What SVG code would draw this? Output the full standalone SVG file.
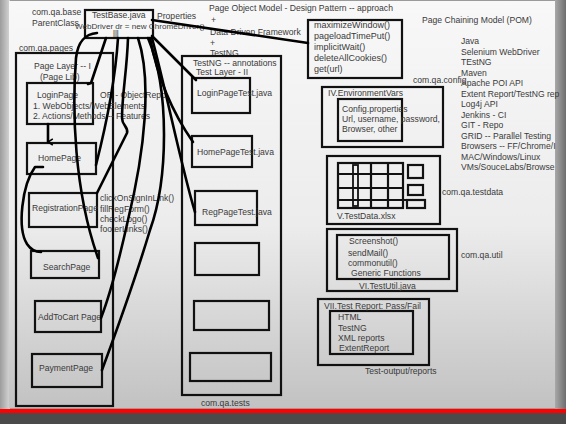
<svg xmlns="http://www.w3.org/2000/svg" width="566" height="424" viewBox="0 0 566 424">
  <defs>
    <linearGradient id="slideGrad" x1="0" y1="0" x2="0" y2="1">
      <stop offset="0" stop-color="#f8f8f8"/>
      <stop offset="0.55" stop-color="#ececec"/>
      <stop offset="1" stop-color="#c2c2c2"/>
    </linearGradient>
    <linearGradient id="rightShade" x1="0" y1="0" x2="1" y2="0">
      <stop offset="0" stop-color="#a8a8a8"/>
      <stop offset="1" stop-color="#6e6e6e"/>
    </linearGradient>
    <linearGradient id="leftShade" x1="0" y1="0" x2="1" y2="0">
      <stop offset="0" stop-color="#9c9c9c"/>
      <stop offset="1" stop-color="#d6d6d6"/>
    </linearGradient>
    <marker id="arrow" viewBox="0 0 10 10" refX="5" refY="9" markerWidth="8" markerHeight="8" orient="auto-start-reverse" markerUnits="userSpaceOnUse">
      <path d="M1,3 L5,9 L9,3" fill="none" stroke="#000" stroke-width="2"/>
    </marker>
    <style>
      .t { font-family: "Liberation Sans", Arial, sans-serif; font-size: 8.6px; fill: #3a3a3a; }
      .m { font-size: 9px; }
      .s { font-size: 8.1px; }
      .box { fill: none; stroke: #111; stroke-width: 2.2; }
      .thin { fill: none; stroke: #111; stroke-width: 1.8; }
      .wire { fill: none; stroke: #000; stroke-width: 2.6; stroke-linecap: round; stroke-linejoin: round; }
    </style>
  </defs>

  <!-- screen backdrop, slide and taskbar strip -->
  <rect x="0" y="0" width="566" height="424" fill="#9a9a9a"/>
  <rect x="0" y="0" width="10" height="410" fill="url(#leftShade)"/>
  <rect x="555" y="0" width="11" height="410" fill="url(#rightShade)"/>
  <rect x="9" y="1" width="546" height="407" fill="url(#slideGrad)"/>
  <rect x="0" y="409" width="566" height="4" fill="#ff0000"/>
  <rect x="0" y="413" width="566" height="11" fill="#4a4a4a"/>

  <!-- headings and free notes -->
  <g id="notes">
    <text class="t" x="209" y="11">Page Object Model - Design Pattern -- approach</text>
    <text class="t" x="211" y="23">+</text>
    <text class="t" x="210" y="35">Data Driven Framework</text>
    <text class="t" x="210" y="45.5">+</text>
    <text class="t" x="210" y="55.5">TestNG</text>
    <text class="t" x="422" y="23">Page Chaining Model (POM)</text>
    <text class="t" x="461" y="44">Java</text>
    <text class="t" x="461" y="54.5">Selenium WebDriver</text>
    <text class="t" x="461" y="65">TEstNG</text>
    <text class="t" x="461" y="75.5">Maven</text>
    <text class="t" x="461" y="86">Apache POI API</text>
    <text class="t" x="461" y="96.5">Extent Report/TestNG rep</text>
    <text class="t" x="461" y="107">Log4j API</text>
    <text class="t" x="461" y="117.5">Jenkins - CI</text>
    <text class="t" x="461" y="128">GIT - Repo</text>
    <text class="t" x="461" y="138.5">GRID -- Parallel Testing</text>
    <text class="t" x="461" y="149">Browsers -- FF/Chrome/I</text>
    <text class="t" x="461" y="159.5">MAC/Windows/Linux</text>
    <text class="t" x="461" y="170">VMs/SouceLabs/Browse</text>
    <text class="t" x="32" y="15">com.qa.base</text>
    <text class="t" x="32" y="26">ParentClass</text>
    <text class="t" x="157" y="19">Properties</text>
    <text class="t" x="19" y="51">com.qa.pages</text>
    <text class="t" x="100" y="97.5">OR - ObjectRepo</text>
    <text class="t" x="100" y="201">clickOnSignInLink()</text>
    <text class="t" x="100" y="212">fillRegForm()</text>
    <text class="t" x="100" y="222">checkLogo()</text>
    <text class="t" x="100" y="232">footerLinks()</text>
    <text class="t" x="201" y="406">com.qa.tests</text>
    <text class="t" x="413" y="83">com.qa.config</text>
    <text class="t" x="442" y="195">com.qa.testdata</text>
    <text class="t" x="461" y="258">com.qa.util</text>
    <text class="t" x="365" y="374">Test-output/reports</text>
  </g>

  <!-- base class -->
  <g id="testbase">
    <rect class="box" x="85" y="10" width="68" height="28"/>
    <text class="t" x="92" y="18">TestBase.java</text>
    <text class="t s" x="75" y="28.5">WebDriver dr = new ChromeDriver()</text>
    <text class="t" x="113" y="37">lll</text>
  </g>

  <!-- page layer -->
  <g id="page-layer">
    <rect class="box" x="16" y="53" width="97" height="353"/>
    <text class="t" x="34" y="69">Page Layer -- I</text>
    <text class="t" x="40" y="80">(Page Lib)</text>
  </g>
  <g id="login-page">
    <rect class="box" x="27" y="83" width="66" height="41"/>
    <text class="t" x="37" y="98">LoginPage</text>
    <text class="t" x="33" y="108.5">1. WebObjects/WebElements</text>
    <text class="t" x="33" y="119">2. Actions/Methods -- Features</text>
  </g>
  <g id="home-page">
    <rect class="box" x="27" y="143" width="69" height="31"/>
    <text class="t" x="38" y="161">HomePage</text>
  </g>
  <g id="registration-page">
    <rect class="box" x="29" y="193" width="68" height="34"/>
    <text class="t" x="32" y="211">RegistrationPage</text>
  </g>
  <g id="search-page">
    <rect class="box" x="31" y="251" width="68" height="27"/>
    <text class="t" x="43" y="270">SearchPage</text>
  </g>
  <g id="addtocart-page">
    <rect class="box" x="35" y="301" width="66" height="31"/>
    <text class="t" x="38" y="320">AddToCart Page</text>
  </g>
  <g id="payment-page">
    <rect class="box" x="32" y="354" width="70" height="33"/>
    <text class="t" x="39" y="371">PaymentPage</text>
  </g>

  <!-- test layer -->
  <g id="test-layer">
    <rect class="box" x="182" y="56" width="99" height="339"/>
    <text class="t" x="193" y="66">TestNG -- annotations</text>
    <text class="t" x="196" y="75">Test Layer - II</text>
  </g>
  <g id="login-page-test">
    <rect class="box" x="192" y="78" width="58" height="35"/>
    <text class="t" x="197" y="96">LoginPageTest.java</text>
  </g>
  <g id="home-page-test">
    <rect class="box" x="192" y="136" width="60" height="31"/>
    <text class="t" x="197" y="155">HomePageTest.java</text>
  </g>
  <g id="reg-page-test">
    <rect class="box" x="195" y="191" width="62" height="34"/>
    <text class="t" x="202" y="215">RegPageTest.java</text>
  </g>
  <g id="test-slot-1"><rect class="box" x="195" y="243" width="64" height="32"/></g>
  <g id="test-slot-2"><rect class="box" x="194" y="301" width="75" height="29"/></g>
  <g id="test-slot-3"><rect class="box" x="190" y="353" width="81" height="28"/></g>

  <!-- driver setup methods -->
  <g id="driver-methods">
    <rect class="box" x="308" y="20" width="94" height="58"/>
    <text class="t m" x="314" y="28">maximizeWindow()</text>
    <text class="t m" x="314" y="39">pageloadTimePut()</text>
    <text class="t m" x="314" y="50">implicitWait()</text>
    <text class="t m" x="314" y="61">deleteAllCookies()</text>
    <text class="t m" x="314" y="72">get(url)</text>
  </g>

  <!-- config -->
  <g id="env-vars">
    <rect class="box" x="322" y="87" width="121" height="60"/>
    <rect class="box" x="338" y="99" width="64" height="42"/>
    <text class="t" x="328" y="96">IV.EnvironmentVars</text>
    <text class="t" x="342" y="112">Config.properties</text>
    <text class="t" x="342" y="122">Url, username, password,</text>
    <text class="t" x="342" y="132">Browser, other</text>
  </g>

  <!-- test data sheet -->
  <g id="test-data">
    <rect class="box" x="327" y="156" width="113" height="68"/>
    <rect class="box" x="338" y="163" width="65" height="45"/>
    <path class="box" d="M371,163 V208 M388,163 V208 M338,174 H403 M338,188 H403 M338,200 H406"/>
    <rect class="thin" x="353" y="165" width="5" height="41"/>
    <rect class="box" x="408" y="165" width="15" height="13"/>
    <rect class="box" x="408" y="185" width="15" height="10"/>
    <rect class="box" x="407" y="200" width="18" height="8"/>
    <text class="t" x="337" y="219">V.TestData.xlsx</text>
  </g>

  <!-- utilities -->
  <g id="test-util">
    <rect class="box" x="327" y="229" width="130" height="62"/>
    <rect class="box" x="337" y="235" width="112" height="44"/>
    <text class="t" x="349" y="244">Screenshot()</text>
    <text class="t" x="348" y="256">sendMail()</text>
    <text class="t" x="348" y="266">commonutil()</text>
    <text class="t" x="351" y="276">Generic Functions</text>
    <text class="t" x="359" y="289">VI.TestUtil.java</text>
  </g>

  <!-- reporting -->
  <g id="test-report">
    <rect class="box" x="318" y="299" width="111" height="66"/>
    <rect class="box" x="330" y="311" width="83" height="43"/>
    <text class="t" x="324" y="309">VII.Test Report: Pass/Fail</text>
    <text class="t" x="338" y="320">HTML</text>
    <text class="t" x="338" y="331">TestNG</text>
    <text class="t" x="338" y="341">XML reports</text>
    <text class="t" x="339" y="351">ExtentReport</text>
  </g>

  <!-- connectors drawn from the base class -->
  <g id="connectors">
    <path class="wire" d="M97,33 C86,34 78,40 76,58 C72,110 74,190 98,258"/>
    <path class="wire" d="M106,38 L91,83 L88,84"/>
    <path class="wire" d="M118,38 C116,70 110,110 96,165"/>
    <path class="wire" d="M128,38 C127,70 122,95 122,118 C122,126 129,127 127,133 L97,193"/>
    <path class="wire" d="M138,38 C152,80 145,150 128,220 C118,265 108,300 101,318"/>
    <path class="wire" d="M148,38 C170,90 168,180 150,230 C135,280 115,335 102,370"/>
    <path class="wire" d="M150,38 C158,80 172,112 193,142"/>
    <path class="wire" d="M152,38 C166,90 182,170 195,212"/>
    <path class="wire" d="M152,36 L196,80"/>
    <path class="wire" d="M152,20 L308,43"/>
    <path class="wire" d="M48,124 L48,142" marker-end="url(#arrow)"/>
    <path class="wire" d="M43,167 L35,167 C22,185 17,228 27,244 C31,250 36,252 41,252"/>
  </g>
</svg>
